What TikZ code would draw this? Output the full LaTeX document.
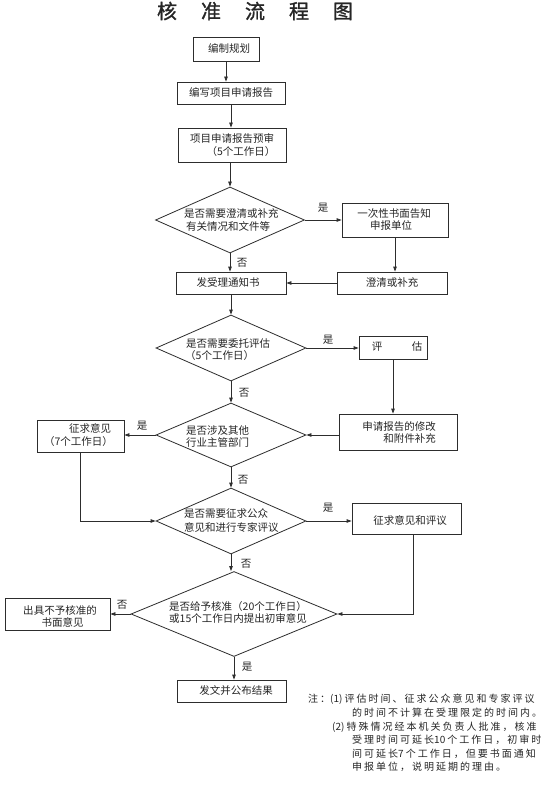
\documentclass[tikz,border=0pt]{standalone}
\usepackage{fontspec}
\newfontfamily\cjk{Noto Sans CJK SC}
\newfontfamily\cjktitle[FakeBold=1.2]{Noto Sans CJK SC}
\newfontfamily\cjknote[LetterSpace=20]{Noto Sans CJK SC}
\usetikzlibrary{shapes.geometric,arrows.meta,calc}
\definecolor{lc}{RGB}{45,45,45}
\newcommand{\nd}[1]{{\cjk #1}}
\begin{document}
\begin{tikzpicture}[x=1pt,y=-1pt,
  box/.style={draw=lc, line width=0.8pt, inner sep=0pt, rectangle},
  dia/.style={draw=lc, line width=0.8pt, inner sep=0pt, diamond},
  txt/.style={font=\cjk\fontsize{10.5}{12}\selectfont, inner sep=0pt, text=black!85, text height=0.8em, text depth=0.1em},
  lbl/.style={txt},
  note/.style={font=\cjknote\fontsize{10}{12}\selectfont, inner sep=0pt, anchor=west, text=black!85, text height=0.8em, text depth=0.1em},
  arr/.style={draw=lc, line width=0.8pt, -{Triangle[length=5pt,width=3.5pt]}},
  ln/.style={draw=lc, line width=0.8pt}]
\fill[white] (0,0) rectangle (553,794);
\useasboundingbox (0,0) rectangle (553,794);

% title
\node[font=\cjktitle\fontsize{20}{22}\selectfont, inner sep=0pt, text=black!85] (title) at (255,11)
  {核\hspace{24pt}准\hspace{24pt}流\hspace{24pt}程\hspace{24pt}图};

% main column shapes
\node[box, minimum width=66, minimum height=24] (b1) at (226,49) {};
\node[box, minimum width=108, minimum height=22] (b2) at (231,93) {};
\node[box, minimum width=108, minimum height=34] (b3) at (232,145) {};
\node[dia, minimum width=149, minimum height=66] (d1) at (230,220) {};
\node[box, minimum width=110, minimum height=22] (b4) at (231,283) {};
\node[dia, minimum width=150, minimum height=66] (d2) at (231,348) {};
\node[dia, minimum width=150, minimum height=64] (d3) at (231,435) {};
\node[dia, minimum width=150, minimum height=66] (d4) at (231,521) {};
\node[dia, minimum width=206, minimum height=85] (d5) at (234,614) {};
\node[box, minimum width=109, minimum height=22] (f) at (232,691) {};

% side shapes
\node[box, minimum width=106, minimum height=34] (s1) at (395,220) {};
\node[box, minimum width=110, minimum height=22] (s2) at (392,283) {};
\node[box, minimum width=68, minimum height=23] (e1) at (393,347.5) {};
\node[box, minimum width=118, minimum height=36] (e2) at (398,432) {};
\node[box, minimum width=87, minimum height=32] (z1) at (80.5,436) {};
\node[box, minimum width=109, minimum height=31] (z2) at (406.5,518.5) {};
\node[box, minimum width=105, minimum height=32] (n1) at (57.5,614) {};

% texts
\node[txt] (tb1) at (229,49) {编制规划};
\node[txt] (tb2) at (231,93) {编写项目申请报告};
\node[txt] (tb3a) at (232,139) {项目申请报告预审};
\node[txt] (tb3b) at (241,152) {（5个工作日）};
\node[txt, anchor=west] (td1a) at (184,214) {是否需要澄清或补充};
\node[txt, anchor=west] (td1b) at (186,227) {有关情况和文件等};
\node[txt] (ts1a) at (394,214) {一次性书面告知};
\node[txt] (ts1b) at (391,226) {申报单位};
\node[txt] (ts2) at (392,283) {澄清或补充};
\node[txt] (tb4) at (228,283) {发受理通知书};
\node[txt, anchor=west] (td2a) at (186,343.5) {是否需要委托评估};
\node[txt, anchor=west] (td2b) at (185,355.5) {（5个工作日）};
\node[txt] (te1a) at (377,347) {评};
\node[txt] (te1b) at (417,347) {估};
\node[txt, anchor=east] (te2a) at (436,427) {申请报告的修改};
\node[txt, anchor=east] (te2b) at (436,439) {和附件补充};
\node[txt, anchor=west] (td3a) at (186,431) {是否涉及其他};
\node[txt, anchor=west] (td3b) at (186,443) {行业主管部门};
\node[txt] (tz1a) at (90,429) {征求意见};
\node[txt] (tz1b) at (78.5,442) {（7个工作日）};
\node[txt, anchor=west] (td4a) at (184,514) {是否需要征求公众};
\node[txt, anchor=west] (td4b) at (184,528) {意见和进行专家评议};
\node[txt] (tz2) at (410,521) {征求意见和评议};
\node[txt, anchor=west] (td5a) at (169,607) {是否给予核准（20个工作日）};
\node[txt, anchor=west] (td5b) at (169,619) {或15个工作日内提出初审意见};
\node[txt] (tn1a) at (60,611) {出具不予核准的};
\node[txt] (tn1b) at (62.5,623) {书面意见};
\node[txt] (tf) at (236,691) {发文并公布结果};

% yes/no labels
\node[lbl] (y1) at (323,208) {是};
\node[lbl] (n1l) at (242,263) {否};
\node[lbl] (y2) at (328,340) {是};
\node[lbl] (n2l) at (244,393) {否};
\node[lbl] (y3) at (142,426) {是};
\node[lbl] (n3l) at (243,480) {否};
\node[lbl] (y4) at (328,508) {是};
\node[lbl] (n4l) at (246,564) {否};
\node[lbl] (n5l) at (122,605) {否};
\node[lbl] (y5) at (247,667) {是};

% connectors
\draw[arr] (b1.south) -- (b1.south |- b2.north);
\draw[arr] (b2.south) -- (b2.south |- b3.north);
\draw[arr] (b3.south -| d1.north) -- (d1.north);
\draw[arr] (d1.south) -- (d1.south |- b4.north);
\draw[arr] (d1.east) -- (d1.east -| s1.west);
\draw[arr] (s1.south) -- (s1.south |- s2.north);
\draw[arr] (s2.west) -- (s2.west -| b4.east);
\draw[arr] (b4.south) -- (d2.north);
\draw[arr] (d2.east) -- (d2.east -| e1.west);
\draw[arr] (e1.south) -- (e1.south |- e2.north);
\draw[arr] (e2.west |- d3.east) -- (d3.east);
\draw[arr] (d2.south) -- (d3.north);
\draw[arr] (d3.west) -- (d3.west -| z1.east);
\draw[arr] (z1.south) |- (d4.west);
\draw[arr] (d3.south) -- (d4.north);
\draw[arr] (d4.east) -- (d4.east -| z2.west);
\draw[arr] ([xshift=6.5pt]z2.south) |- (d5.east);
\draw[arr] (d4.south) -- (d4.south |- d5.north);
\draw[arr] (d5.west) -- (d5.west -| n1.east);
\draw[arr] (d5.south) -- (d5.south |- f.north);

% notes
\node[note] (nt1) at (308,699) {注：\nd{(1)}\hspace{2pt}评估时间、征求公众意见和专家评议};
\node[note] (nt2) at (352,713) {的时间不计算在受理限定的时间内。};
\node[note] (nt3) at (332,727) {\nd{(2)}\hspace{2pt}特殊情况经本机关负责人批准，核准};
\node[note] (nt4) at (352,740) {受理时间可延长\nd{10}\hspace{2pt}个工作日，初审时};
\node[note] (nt5) at (352,754) {间可延长\nd{7}\hspace{2pt}个工作日，但要书面通知};
\node[note] (nt6) at (352,767) {申报单位，说明延期的理由。};
\end{tikzpicture}
\end{document}
